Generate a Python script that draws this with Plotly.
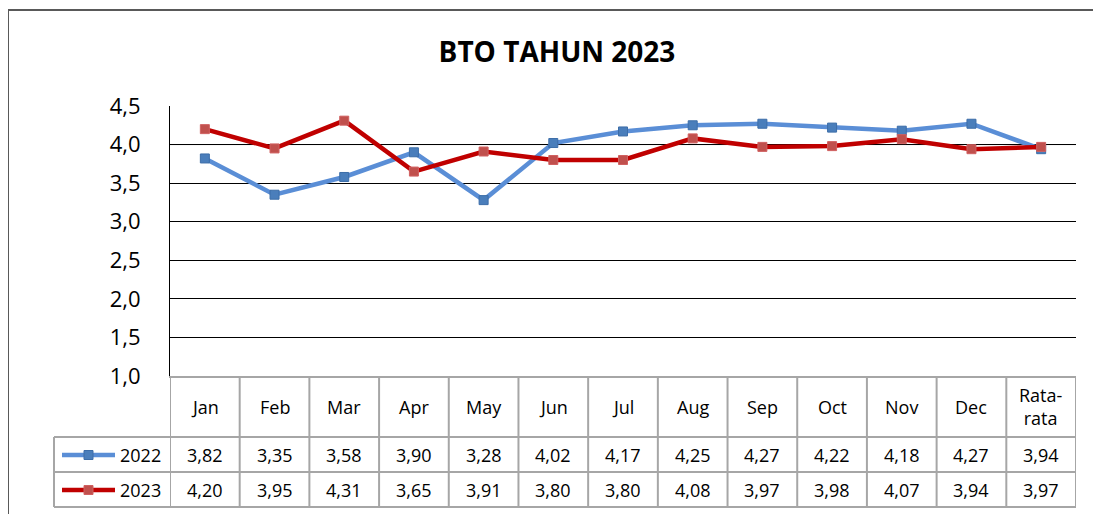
import plotly.graph_objects as go

categories = ["Jan", "Feb", "Mar", "Apr", "May", "Jun", "Jul", "Aug", "Sep", "Oct", "Nov", "Dec", "Rata-rata"]
header_labels = ["Jan", "Feb", "Mar", "Apr", "May", "Jun", "Jul", "Aug", "Sep", "Oct", "Nov", "Dec", "Rata-<br>rata"]
series_names = ["2022", "2023"]
values_2022 = [3.82, 3.35, 3.58, 3.90, 3.28, 4.02, 4.17, 4.25, 4.27, 4.22, 4.18, 4.27, 3.94]
values_2023 = [4.20, 3.95, 4.31, 3.65, 3.91, 3.80, 3.80, 4.08, 3.97, 3.98, 4.07, 3.94, 3.97]
title_text = "BTO TAHUN 2023"

FONT = "Open Sans"
line_colors = ["#5A8ED6", "#C00000"]
marker_colors = ["#4A7EBB", "#C0504D"]
marker_lines = ["#3C6DA8", "#D06060"]
grid_gray = "#A6A6A6"

# page body has an 8px margin; figure coords = screen coords - 8
OFF = 8
W, H = 1101 - OFF, 514 - OFF
L, R, T, B = 170 - OFF, 1076 - OFF, 106 - OFF, 376 - OFF
def px(xs):
    return (xs - OFF - L) / (R - L)
def py(ys):
    return (B - (ys - OFF)) / (B - T)

fig = go.Figure()
all_series = [values_2022, values_2023]
for i, vals in enumerate(all_series):
    fig.add_trace(go.Scatter(
        x=categories, y=vals, mode="lines+markers", name=series_names[i],
        line=dict(color=line_colors[i], width=4.5),
        marker=dict(symbol="square", size=9, color=marker_colors[i],
                    line=dict(color=marker_lines[i], width=1)),
        showlegend=False,
    ))

shapes = []
annotations = []
n = len(categories)
# outer chart border
shapes.append(dict(type="rect", xref="paper", yref="paper", x0=px(8), x1=px(1115),
                   y0=py(530), y1=py(10), line=dict(color="#595959", width=2), layer="below"))
# lighter gridline at 4.0 as in the reference
shapes.append(dict(type="line", xref="paper", yref="y", x0=0, x1=1, y0=4.0, y1=4.0,
                   line=dict(color="#808080", width=1), layer="below"))

# table grid
y_head_top, y_r1, y_r2, y_r3 = py(376), py(437), py(472), py(507)
for k in range(n + 1):
    shapes.append(dict(type="line", xref="x", yref="paper", x0=k - 0.5, x1=k - 0.5,
                       y0=y_head_top, y1=y_r3, line=dict(color=grid_gray, width=2)))
for yy in [y_r1, y_r2, y_r3]:
    shapes.append(dict(type="line", xref="paper", yref="paper", x0=px(54), x1=1,
                       y0=yy, y1=yy, line=dict(color=grid_gray, width=2)))
shapes.append(dict(type="line", xref="paper", yref="paper", x0=px(54), x1=px(54),
                   y0=y_r1, y1=y_r3, line=dict(color=grid_gray, width=2)))

# header labels
for k, lab in enumerate(header_labels):
    annotations.append(dict(x=categories[k], y=py(407), xref="x", yref="paper", text=lab,
                            showarrow=False, font=dict(family=FONT, size=18, color="black"),
                            xanchor="center", yanchor="middle"))
row_centers = [py(455), py(490)]
for i, vals in enumerate(all_series):
    for k, v in enumerate(vals):
        annotations.append(dict(x=categories[k], y=row_centers[i], xref="x", yref="paper",
                                text=f"{v:.2f}".replace(".", ","), showarrow=False,
                                font=dict(family=FONT, size=18, color="black"),
                                xanchor="center", yanchor="middle"))
    # legend key
    shapes.append(dict(type="line", xref="paper", yref="paper", x0=px(62), x1=px(115),
                       y0=row_centers[i], y1=row_centers[i],
                       line=dict(color=line_colors[i], width=4.5)))
    shapes.append(dict(type="rect", xref="paper", yref="paper", x0=px(84), x1=px(93),
                       y0=row_centers[i] - 4.5 / (B - T), y1=row_centers[i] + 4.5 / (B - T),
                       fillcolor=marker_colors[i], line=dict(color=marker_lines[i], width=1)))
    annotations.append(dict(x=px(118), y=row_centers[i], xref="paper", yref="paper",
                            text=series_names[i], showarrow=False,
                            font=dict(family=FONT, size=18, color="black"),
                            xanchor="left", yanchor="middle"))

fig.update_layout(
    width=W, height=H,
    margin=dict(l=L, r=W - R, t=T, b=H - B),
    paper_bgcolor="white", plot_bgcolor="white",
    separators=",.",
    title=dict(text=f"<b>{title_text}</b>", x=(557 - OFF) / W, xref="container", xanchor="center",
               y=1 - (52 - OFF) / H, yref="container", yanchor="middle",
               font=dict(family=FONT, size=28, color="black")),
    xaxis=dict(type="category", range=[-0.5, n - 0.5], showticklabels=False, showgrid=False,
               showline=True, linecolor=grid_gray, linewidth=2, ticks="", zeroline=False),
    yaxis=dict(range=[1, 4.5], dtick=0.5, tick0=1, tickformat=".1f", showgrid=True,
               gridcolor="black", gridwidth=1, showline=True, linecolor="black", linewidth=1,
               ticks="", ticklabelstandoff=24, zeroline=False,
               tickfont=dict(family=FONT, size=22, color="black")),
    shapes=shapes, annotations=annotations,
)

fig.write_html("out.html")
